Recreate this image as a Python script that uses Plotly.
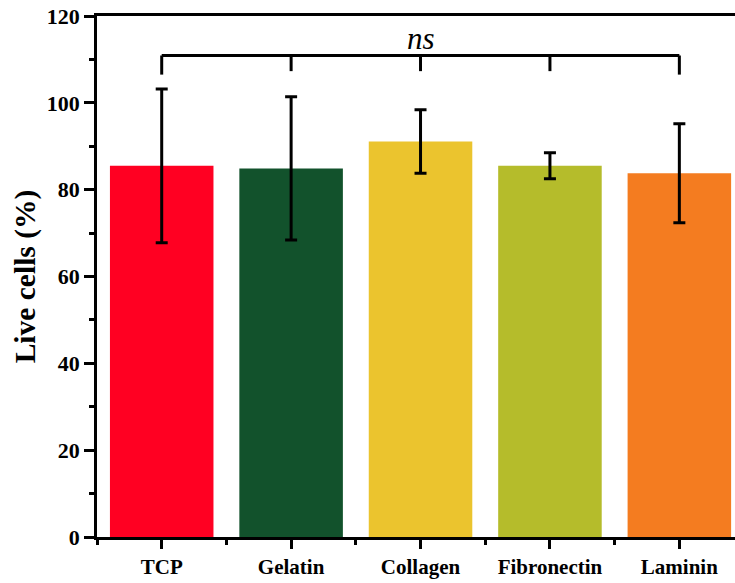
import plotly.graph_objects as go

categories = ["TCP", "Gelatin", "Collagen", "Fibronectin", "Laminin"]
live_cells = [85.5, 84.9, 91.1, 85.5, 83.8]
errors = [17.7, 16.5, 7.3, 3.0, 11.4]
colors = ["#FF0022", "#12522C", "#EBC42E", "#B5BC2B", "#F47C20"]
y_ticks = [0, 20, 40, 60, 80, 100, 120]

xpos = list(range(len(categories)))

fig = go.Figure()
fig.add_trace(go.Bar(
    x=xpos, y=live_cells, width=0.8,
    marker=dict(color=colors, line=dict(width=0)),
    error_y=dict(type="data", array=errors, visible=True, color="black",
                 thickness=3, width=6),
    showlegend=False,
))

# significance bracket
bar_y, tick_end, tick_mid = 110.9, 106.5, 107.3
fig.add_shape(type="line", x0=xpos[0], x1=xpos[-1], y0=bar_y, y1=bar_y,
              line=dict(color="black", width=3), xref="x", yref="y")
for i, xv in enumerate(xpos):
    end = tick_end if i in (0, len(xpos) - 1) else tick_mid
    fig.add_shape(type="line", x0=xv, x1=xv, y0=bar_y, y1=end,
                  line=dict(color="black", width=3), xref="x", yref="y")
fig.add_annotation(x=xpos[2], y=bar_y - 0.6, text="<i>ns</i>", showarrow=False,
                   yanchor="bottom", font=dict(family="Liberation Serif", size=31, color="black"))

fig.update_layout(
    width=735, height=583,
    margin=dict(l=97, r=0, t=16, b=46, autoexpand=False),
    plot_bgcolor="white", paper_bgcolor="white",
    font=dict(family="Liberation Serif", color="black"),
    bargap=0.2,
)
fig.update_xaxes(
    range=[-0.5, 4.43], tickvals=xpos, ticktext=["<b>%s</b>" % c for c in categories],
    tickfont=dict(size=21, family="Liberation Serif"),
    showline=True, linecolor="black", linewidth=2.5, mirror=True,
    ticks="outside", ticklen=9, tickwidth=2.5, tickcolor="black",
    minor=dict(tick0=0.5, dtick=1, ticks="outside", ticklen=5, tickwidth=2.5, tickcolor="black"),
    showgrid=False, zeroline=False, automargin=False, ticklabeloverflow="allow",
)
fig.update_yaxes(
    range=[0, 120], tickvals=y_ticks, ticktext=["<b>%d</b>" % v for v in y_ticks],
    tickfont=dict(size=22, family="Liberation Serif"),
    title=dict(text="<b>Live cells (%)</b>", font=dict(size=29.5, family="Liberation Serif"), standoff=3),
    showline=True, linecolor="black", linewidth=2.5,
    ticks="outside", ticklen=10, tickwidth=2.5, tickcolor="black",
    minor=dict(dtick=10, ticks="outside", ticklen=5, tickwidth=2.5, tickcolor="black"),
    showgrid=False, zeroline=False, automargin=False, ticklabeloverflow="allow",
)

# remove the default 8px page margin so the figure fills the window exactly
fig.write_html("out.html", config={"displayModeBar": False},
               post_script="document.body.style.margin='0';")
